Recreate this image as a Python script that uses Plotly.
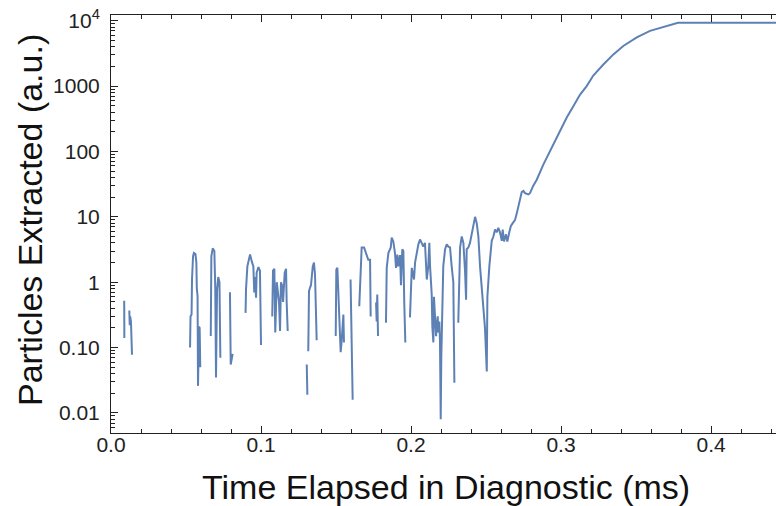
import plotly.graph_objects as go

# Time (ms) and particles extracted (a.u.); None marks gaps (zero counts, undefined on log axis)
time_ms = [
    0.0088, 0.0089, None,
    0.0122, 0.0125, 0.0128, 0.0133, 0.0140, None,
    0.0527, 0.0530, 0.0537, 0.0540, 0.0547, 0.0553, 0.0563, 0.0569, 0.0572, 0.0577, 0.0580, 0.0587, 0.0591, 0.0595, None,
    0.0665, 0.0669, 0.0678, 0.0689, 0.0695, 0.0700, 0.0707, 0.0715, 0.0723, 0.0729, None,
    0.0793, 0.0798, 0.0811, None,
    0.0897, 0.0900, 0.0909, 0.0927, 0.0938, 0.0949, 0.0955, 0.0960, 0.0967, 0.0971, 0.0983, 0.0993, 0.1000, None,
    0.1075, 0.1080, 0.1089, 0.1095, 0.1105, 0.1113, 0.1120, 0.1127, 0.1133, 0.1140, 0.1147, 0.1158, 0.1167, 0.1171, 0.1178, None,
    0.1305, 0.1309, None,
    0.1315, 0.1320, 0.1327, 0.1333, 0.1345, 0.1353, 0.1360, 0.1371, None,
    0.1498, 0.1502, 0.1509, 0.1515, 0.1527, 0.1531, 0.1538, 0.1549, 0.1553, None,
    0.1597, 0.1611, None,
    0.1655, 0.1665, 0.1671, 0.1687, 0.1700, 0.1715, 0.1727, 0.1731, None,
    0.1767, 0.1771, 0.1775, 0.1780, None,
    0.1833, 0.1838, 0.1849, 0.1865, 0.1871, 0.1882, 0.1893, 0.1900, 0.1909, 0.1915, 0.1927, 0.1933, 0.1942, 0.1949, 0.1955, 0.1962, None,
    0.1993, 0.2005, 0.2020, 0.2027, 0.2049, 0.2060, 0.2071, 0.2082, 0.2093, 0.2105, 0.2115, 0.2122, 0.2127, 0.2133, 0.2138,
    0.2142, 0.2149, 0.2153, 0.2160, 0.2167, 0.2171, 0.2178, 0.2182, 0.2189, 0.2193, 0.2198, 0.2202, 0.2209, 0.2215, 0.2227,
    0.2238, 0.2249, 0.2260, 0.2271, 0.2282, 0.2289, None,
    0.2315, 0.2327, 0.2338, 0.2349, 0.2360, 0.2367, 0.2371, 0.2382, 0.2393, 0.2405, 0.2415, 0.2427, 0.2438, 0.2449, 0.2460,
    0.2471, 0.2482, 0.2493, 0.2505, 0.2509, 0.2522, 0.2531, 0.2538, 0.2549, 0.2560, 0.2571, 0.2582, 0.2593, 0.2605, 0.2611,
    0.2620, 0.2633, 0.2642, 0.2655, 0.2665, 0.2678, 0.2693, 0.2705, 0.2715, 0.2727, 0.2738, 0.2749, 0.2760, 0.2782, 0.2793,
    0.2815, 0.2838, 0.2882, 0.2927, 0.2971, 0.3005, 0.3038, 0.3082, 0.3127, 0.3171, 0.3215, 0.3282, 0.3349, 0.3415, 0.3505,
    0.3593, 0.3682, 0.3733, 0.3780, 0.4000, 0.4200, 0.4433,
]
particles = [
    0.52, 0.14, None,
    0.37, 0.22, 0.30, 0.25, 0.078, None,
    0.10, 0.30, 0.32, 1.1, 2.5, 2.8, 2.7, 2.0, 0.8, 0.62, 0.026, 0.21, 0.20, 0.05, None,
    0.15, 2.5, 3.3, 3.0, 0.8, 0.035, 0.77, 1.2, 1.0, 0.07, None,
    0.7, 0.055, 0.08, None,
    0.34, 0.77, 1.75, 2.65, 2.1, 1.75, 0.7, 1.2, 0.58, 1.4, 1.7, 1.5, 0.11, None,
    0.30, 1.5, 1.6, 0.17, 1.0, 0.7, 0.5, 0.18, 1.0, 0.9, 0.5, 1.4, 1.6, 0.5, 0.18, None,
    0.055, 0.019, None,
    0.088, 0.73, 0.83, 0.9, 1.75, 2.0, 1.3, 0.13, None,
    0.15, 1.56, 1.66, 0.77, 0.2, 0.085, 0.13, 0.32, 0.12, None,
    1.1, 0.016, None,
    0.43, 2.8, 3.4, 3.4, 2.8, 2.2, 2.2, 0.30, None,
    0.49, 0.25, 0.65, 0.15, None,
    0.24, 1.66, 2.8, 3.4, 4.8, 4.2, 2.8, 1.66, 2.65, 1.75, 2.6, 0.9, 3.2, 3.0, 0.48, 0.12, None,
    0.29, 1.66, 1.1, 2.0, 3.8, 4.5, 4.0, 3.5, 4.0, 1.1, 1.75, 4.0, 1.75, 1.1, 0.65,
    0.21, 0.12, 0.6, 0.33, 0.15, 0.21, 0.3, 0.17, 0.25, 0.13, 0.008, 0.074, 0.6, 1.75, 3.2,
    3.8, 3.5, 3.4, 1.75, 1.0, 0.029, None,
    0.24, 3.4, 5.0, 4.0, 1.5, 0.54, 3.2, 3.4, 4.0, 5.7, 8.1, 10.0, 8.0, 5.0, 1.75,
    0.87, 0.36, 0.2, 0.043, 0.6, 1.75, 3.5, 4.3, 5.0, 6.4, 5.8, 6.8, 5.8, 4.3, 6.4,
    4.2, 5.4, 4.2, 5.8, 7.2, 8.0, 8.9, 11.3, 14.0, 17.0, 24.0, 25.0, 23.0, 22.0, 23.0,
    30.0, 37.0, 63.0, 101.0, 161.0, 228.0, 330.0, 490.0, 740.0, 1000.0, 1450.0, 2140.0, 3050.0, 4100.0, 5550.0,
    7000.0, 8000.0, 8700.0, 9300.0, 9300.0, 9300.0, 9300.0,
]

x_tick_vals = [0.0, 0.1, 0.2, 0.3, 0.4]
x_tick_text = ["0.0", "0.1", "0.2", "0.3", "0.4"]
y_tick_vals = [1e4, 1000, 100, 10, 1, 0.1, 0.01]
y_tick_text = ["10<sup>4</sup>", "1000", "100", "10", "1", "0.10", "0.01"]

y_minor = [k * 10.0 ** e for e in range(-3, 5) for k in range(2, 10)]
x_minor = [i * 0.02 for i in range(0, 23)]

FONT = "Liberation Sans, Arial, sans-serif"
INK = "#222222"

fig = go.Figure()
fig.add_trace(go.Scatter(
    x=time_ms, y=particles, mode="lines",
    line=dict(color="#5E81B5", width=2),
    connectgaps=False, showlegend=False, hoverinfo="skip",
))

fig.update_layout(
    width=776, height=506,
    margin=dict(l=111, r=0, t=15, b=73),
    paper_bgcolor="white", plot_bgcolor="white",
    font=dict(family=FONT, color=INK),
    xaxis=dict(
        range=[0, 0.4433], showgrid=False, zeroline=False,
        showline=True, linecolor=INK, linewidth=1, mirror="ticks",
        ticks="inside", ticklen=7, tickwidth=1, tickcolor=INK,
        tickmode="array", tickvals=x_tick_vals, ticktext=x_tick_text,
        tickfont=dict(size=21, color=INK), ticklabelstandoff=-7,
        minor=dict(tickmode="array", tickvals=x_minor, ticks="inside",
                   ticklen=4, tickwidth=1, tickcolor=INK, showgrid=False),
    ),
    yaxis=dict(
        type="log", range=[-2.306, 4.087], showgrid=False, zeroline=False,
        showline=True, linecolor=INK, linewidth=1, mirror=False,
        ticks="inside", ticklen=7, tickwidth=1, tickcolor=INK,
        tickmode="array", tickvals=y_tick_vals, ticktext=y_tick_text,
        tickfont=dict(size=21, color=INK), ticklabelstandoff=6,
        minor=dict(tickmode="array", tickvals=y_minor, ticks="inside",
                   ticklen=4, tickwidth=1, tickcolor=INK, showgrid=False),
    ),
    annotations=[
        dict(text="Time Elapsed in Diagnostic (ms)", xref="paper", yref="paper",
             x=(446 - 111) / 665, y=-(487 - 433) / 418, xanchor="center", yanchor="middle",
             showarrow=False, font=dict(size=34, color="#111111", family=FONT)),
        dict(text="Particles Extracted (a.u.)", xref="paper", yref="paper",
             x=(30 - 111) / 665, y=(433 - 220) / 418, xanchor="center", yanchor="middle",
             textangle=-90, showarrow=False, font=dict(size=34, color="#111111", family=FONT)),
    ],
)

fig.write_html("out.html")
